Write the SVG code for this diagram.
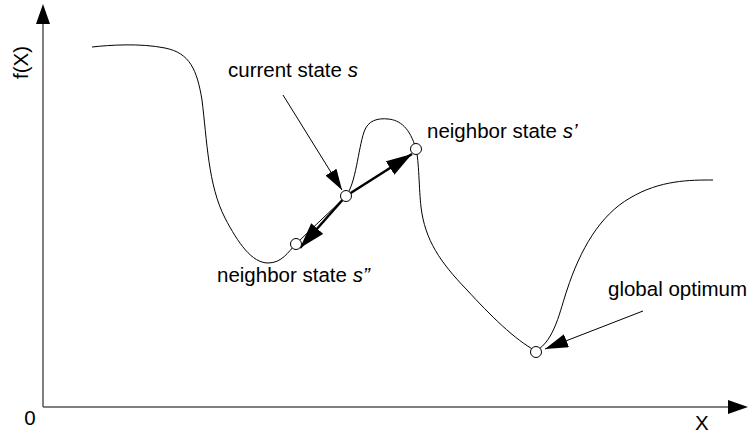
<svg xmlns="http://www.w3.org/2000/svg" width="752" height="434" viewBox="0 0 752 434">
<style>
text{font-family:"Liberation Sans",Arial,sans-serif;font-size:20.5px;fill:#000}
.ax{stroke:#555;stroke-width:1.5;fill:none}
.curve{stroke:#000;stroke-width:1;fill:none}
.thin{stroke:#000;stroke-width:1;fill:none}
.thick{stroke:#000;stroke-width:2.5;fill:none}
.node{fill:#fff;stroke:#000;stroke-width:1}
</style>
<defs>
<marker id="ah" markerUnits="userSpaceOnUse" markerWidth="23" markerHeight="14" refX="23" refY="7" orient="auto"><path d="M0,0 L23,7 L0,14 z" fill="#000"/></marker>
<marker id="ahs" markerUnits="userSpaceOnUse" markerWidth="21" markerHeight="13" refX="21" refY="6.5" orient="auto"><path d="M0,0 L21,6.5 L0,13 z" fill="#000"/></marker>
<marker id="ahb" markerUnits="userSpaceOnUse" markerWidth="26" markerHeight="16" refX="26" refY="8" orient="auto"><path d="M0,0 L26,8 L0,16 z" fill="#000"/></marker>
</defs>
<g id="axes">
<line class="ax" x1="43" y1="407" x2="43" y2="24"/>
<path d="M36,24 L43,4 L50,24 z" fill="#000"/>
<line class="ax" x1="43" y1="407" x2="728" y2="407"/>
<path d="M728,400 L748,407 L728,414 z" fill="#000"/>
<text x="30" y="425" text-anchor="middle">0</text>
<text x="695" y="430">X</text>
<text transform="translate(28,62.5) rotate(-90)" text-anchor="middle">f(X)</text>
</g>
<g id="curve">
<path class="curve" d="M92,47 C110,45 140,43 165,48 C190,53 197,70 202,100 C207,140 208,185 225,218 C238,243 252,263 268,263 C282,263 288,252 296,244 C312,228 330,212 346,196 C356,183 358,150 364,132 C368,120 378,118 388,119 C400,120 410,128 416,149 C419,160 419,190 421,207 C425,240 440,262 467,290 C490,315 515,340 536,351 C555,340 560,310 567,290 C580,250 600,215 630,198 C660,180 690,180 713,180"/>
</g>
<g id="connectors">
<line class="thin" x1="283" y1="95" x2="342" y2="190" marker-end="url(#ahs)"/>
<line class="thick" x1="346" y1="196" x2="412" y2="154" marker-end="url(#ahb)"/>
<line class="thick" x1="346" y1="196" x2="300" y2="248" marker-end="url(#ahb)"/>
<line class="thin" x1="643" y1="311" x2="545" y2="349" marker-end="url(#ah)"/>
</g>
<g id="node-s2"><circle class="node" cx="296" cy="244" r="5.5"/><text x="217" y="282">neighbor state <tspan font-style="italic">s”</tspan></text></g>
<g id="node-s"><circle class="node" cx="346" cy="196" r="5.5"/><text x="228" y="77">current state <tspan font-style="italic">s</tspan></text></g>
<g id="node-s1"><circle class="node" cx="416" cy="149" r="5.5"/><text x="427" y="138">neighbor state <tspan font-style="italic">s’</tspan></text></g>
<g id="node-opt"><circle class="node" cx="536" cy="352" r="5.5"/><text x="608" y="296">global optimum</text></g>
</svg>
